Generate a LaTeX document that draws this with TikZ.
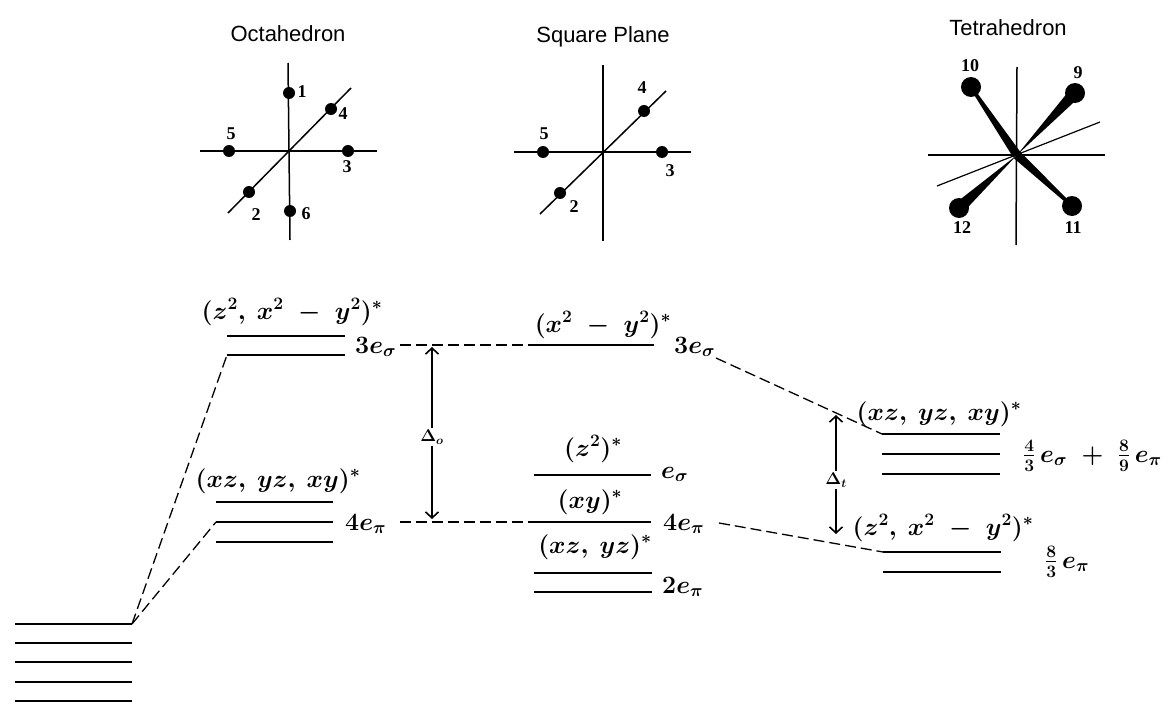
\documentclass[tikz,border=0pt]{standalone}
\usepackage{fix-cm}
\usepackage{fontspec}
\setmainfont{Liberation Serif}
\newfontfamily\titlefont{Liberation Sans}
\usepackage{amsmath,amssymb}
\usetikzlibrary{arrows.meta,calc}

\tikzset{
  orbline/.style={line width=1.5pt},
  axisline/.style={line width=1.5pt},
  linkline/.style={line width=1.3pt,dash pattern=on 11pt off 5pt},
  gaparrow/.style={line width=1.6pt,-{Straight Barb[length=6pt,width=13pt,line width=1.6pt]}},
  atom/.style={circle,fill=black,inner sep=0pt,minimum size=12pt},
  bigatom/.style={circle,fill=black,inner sep=0pt,minimum size=20pt},
  numlabel/.style={font=\fontsize{18}{20}\selectfont\bfseries,inner sep=0pt},
  shapename/.style={font=\titlefont\fontsize{22}{26}\selectfont,anchor=base,inner sep=0pt},
  orbname/.style={font=\fontsize{25}{30}\selectfont\boldmath,anchor=base,inner sep=0pt},
  energy/.style={font=\fontsize{25}{30}\selectfont\boldmath,anchor=base west,inner sep=0pt},
  gapname/.style={font=\fontsize{17}{20}\selectfont\boldmath,inner sep=2pt}
}

\begin{document}
\begin{tikzpicture}[x=1pt,y=-1pt]
\useasboundingbox (0,0) rectangle (1168,709);

% titles
\node[shapename] (octname) at (288,42) {Octahedron};
\node[shapename] (sqname) at (603,43) {Square Plane};
\node[shapename] (tetname) at (1008,36) {Tetrahedron};

% octahedron
\coordinate (oc) at (288,151);
\draw[axisline] (288,63) coordinate (ot) -- (290,240) coordinate (ob);
\draw[axisline] (200,151) coordinate (ol) -- (377,151) coordinate (or);
\draw[axisline] (228,213) coordinate (od) -- (351,88) coordinate (ou);
\foreach \n/\x/\y/\lx/\ly in {1/289/93/302/92,4/331/109/343/114,5/229/151/231/134,3/348/151/347/167,2/249/192/256/215,6/290/211/306/214} {
  \node[atom] (oa\n) at (\x,\y) {};
  \node[numlabel] (ol\n) at (\lx,\ly) {\n};
}

% square plane
\draw[axisline] (603,65) coordinate (st) -- (603,241) coordinate (sb);
\draw[axisline] (514,152) coordinate (sl) -- (691,152) coordinate (sr);
\draw[axisline] (540,214) coordinate (sd) -- (666,91) coordinate (su);
\foreach \n/\x/\y/\lx/\ly in {4/644/111/642/88,5/543/152/544/134,3/662/152/670/171,2/560/193/574/207} {
  \node[atom] (sa\n) at (\x,\y) {};
  \node[numlabel] (sl\n) at (\lx,\ly) {\n};
}

% tetrahedron
\coordinate (tc) at (1017,155);
\draw[axisline] (1017,67) coordinate (tt) -- (1016,245) coordinate (tb);
\draw[axisline] (928,155) coordinate (tl) -- (1105,155) coordinate (tr);
\draw[line width=1.2pt] (937,186) coordinate (td) -- (1100,122) coordinate (tu);
\foreach \n/\x/\y/\lx/\ly in {10/971/87/970/66,9/1075/93/1078/73,12/959/208/962/228,11/1072/206/1073/228} {
  \node[bigatom] (ta\n) at (\x,\y) {};
  \node[numlabel] (tl\n) at (\lx,\ly) {\n};
}
% wedges
\foreach \n in {9,12} {
  \fill (tc) -- ($(ta\n)!6pt!90:(tc)$) -- ($(ta\n)!6pt!-90:(tc)$) -- cycle;
}
\foreach \n in {10,11} {
  \fill ($(tc)!4.5pt!90:(ta\n)$) -- ($(ta\n)!1.5pt!-90:(tc)$) -- ($(ta\n)!1.5pt!90:(tc)$) -- ($(tc)!4.5pt!-90:(ta\n)$) -- cycle;
}

% d levels
\foreach \n/\y in {1/624,2/643,3/662,4/682,5/701} {
  \draw[orbline] (15,\y) -- (132,\y) coordinate (d\n);
}
% octahedral levels
\foreach \n/\y in {1/336,2/355} {
  \draw[orbline] (227,\y) coordinate (oe\n) -- (345,\y);
}
\foreach \n/\y in {1/502,2/522,3/542} {
  \draw[orbline] (216,\y) coordinate (tg\n) -- (333,\y);
}
% square plane levels
\foreach \n/\xa/\xb/\y in {a/536/654/345,b/534/651/475,c/534/651/522,d/534/652/573,e/534/652/592} {
  \draw[orbline] (\xa,\y) coordinate (lev\n) -- (\xb,\y);
}
% tetrahedral levels
\foreach \n/\y in {1/434,2/454,3/474} {
  \draw[orbline] (882,\y) coordinate (ttop\n) -- (1000,\y);
}
\foreach \n/\y in {1/552,2/572} {
  \draw[orbline] (883,\y) coordinate (tbot\n) -- (1001,\y);
}

% orbital labels
\node[orbname] (oeg) at (292,319) {$(z^2,\ x^2\;-\;y^2)^*$};
\node[orbname] (ot2g) at (278,487) {$(xz,\ yz,\ xy)^*$};
\node[orbname] (sqa) at (603,332) {$(x^2\;-\;y^2)^*$};
\node[orbname] (sqb) at (593,456) {$(z^2)^*$};
\node[orbname] (sqc) at (590,508) {$(xy)^*$};
\node[orbname] (sqd) at (595,553) {$(xz,\ yz)^*$};
\node[orbname] (tt2) at (939,420) {$(xz,\ yz,\ xy)^*$};
\node[orbname] (te) at (943,535) {$(z^2,\ x^2\;-\;y^2)^*$};

% energies
\node[energy] (oes) at (355,353) {$3e_\sigma$};
\node[energy] (oep) at (345,530) {$4e_\pi$};
\node[energy] (ses) at (674,353) {$3e_\sigma$};
\node[energy] (seo) at (661,478) {$e_\sigma$};
\node[energy] (sep) at (663,530) {$4e_\pi$};
\node[energy] (sep2) at (662,593) {$2e_\pi$};
\node[energy] (tes) at (1023,462) {$\tfrac{4}{3}\,e_\sigma\;+\;\tfrac{8}{9}\,e_\pi$};
\node[energy] (tep) at (1045,568) {$\tfrac{8}{3}\,e_\pi$};

% correlation lines
\draw[linkline] (d1) -- (oe2);
\draw[linkline] (d1) -- (tg2);
\coordinate (ua) at (400,345);
\coordinate (ub) at (400,522);
\coordinate (uc) at (716,358);
\coordinate (ud) at (719,523);
\draw[linkline] (ua) -- (leva);
\draw[linkline] (ub) -- (levc);
\draw[linkline] (uc) -- (ttop1);
\draw[linkline] (ud) -- (tbot1);

% splitting arrows
\node[gapname] (delo) at (432,437) {$\Delta_o$};
\coordinate (delotop) at (432,347);
\coordinate (delobot) at (432,519);
\draw[gaparrow] (delo) -- (delotop);
\draw[gaparrow] (delo) -- (delobot);
\node[gapname] (delt) at (836,480) {$\Delta_t$};
\coordinate (delttop) at (836,415);
\coordinate (deltbot) at (836,534);
\draw[gaparrow] (delt) -- (delttop);
\draw[gaparrow] (delt) -- (deltbot);
\end{tikzpicture}
\end{document}
